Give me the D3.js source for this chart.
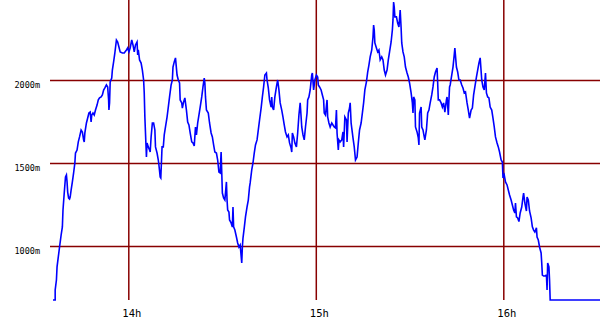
<!DOCTYPE html>
<html>
<head>
<meta charset="utf-8">
<script src="https://cdn.jsdelivr.net/npm/d3@7"></script>
<style>
html,body{margin:0;padding:0;background:#fff;}
svg{display:block;}
</style>
</head>
<body>
<svg id="chart" width="600" height="330"></svg>
<script>
// time in minutes after 13:00
const timeMin = [
35.9,36.6,36.6,37.0,37.2,37.6,38.0,38.5,38.9,39.1,39.5,39.9,40.2,40.4,40.6,40.9,41.2,41.4,41.7,42.1,
42.5,42.9,43.1,43.6,44.0,44.4,44.9,45.3,45.7,45.9,46.1,46.6,47.0,47.4,47.8,48.1,48.3,48.7,49.1,49.5,
50.0,50.4,50.8,51.3,51.7,52.1,52.5,53.0,53.4,53.7,53.8,54.0,54.2,54.7,54.9,55.3,55.7,56.2,56.6,57.0,
57.4,58.1,58.7,59.4,59.8,60.2,60.6,61.1,61.5,61.9,62.3,62.8,63.0,63.2,63.6,64.1,64.5,64.9,65.1,65.3,
65.5,65.8,66.0,66.4,66.8,
67.0,67.3,67.7,68.1,68.5,68.7,69.2,69.6,69.8,70.2,70.4,70.8,71.2,71.5,71.9,72.4,72.8,73.2,73.7,74.1,
74.3,74.7,75.1,75.6,76.0,76.4,76.6,77.1,77.3,77.7,78.1,78.6,79.0,79.4,79.8,80.3,80.7,81.1,81.5,81.8,
82.2,82.6,83.0,83.5,83.9,84.3,84.5,84.7,85.0,85.6,86.0,86.5,86.9,87.3,87.7,88.2,88.6,89.0,89.4,89.7,
89.9,90.1,90.5,90.9,91.4,91.6,91.8,92.2,92.4,92.9,93.3,93.5,93.7,94.1,94.6,95.0,95.4,95.8,96.3,96.5,
96.7,97.1,97.5,98.0,98.4,98.8,
99.0,99.5,99.9,100.3,100.7,101.2,101.6,102.0,102.5,102.9,103.3,103.7,104.2,104.4,104.8,105.2,105.7,105.9,106.1,106.5,
106.9,107.4,107.8,108.2,108.6,109.1,109.5,109.9,110.3,110.8,111.2,111.6,112.1,112.3,112.5,112.9,113.3,113.8,114.2,114.6,
115.0,115.3,115.5,115.9,116.3,116.7,117.2,117.4,117.8,118.2,118.7,118.9,119.3,119.7,120.2,120.6,120.8,121.2,121.7,122.1,
122.5,122.7,123.1,123.6,123.8,124.2,124.6,125.1,125.5,125.9,126.3,126.6,126.8,127.2,127.4,127.8,128.3,128.7,128.9,129.3,
129.8,130.0,130.4,130.8,
131.0,131.3,131.7,131.9,132.3,132.7,133.2,133.6,134.0,134.5,134.9,135.3,135.7,136.2,136.6,137.0,137.4,137.9,138.3,138.5,
138.7,138.9,139.4,139.8,140.2,140.6,141.1,141.5,141.9,142.3,142.8,143.2,143.6,144.1,144.5,144.7,144.9,145.1,145.3,145.8,
146.2,146.6,147.0,147.3,147.5,147.9,148.3,148.7,149.2,149.6,150.0,150.5,150.9,151.1,151.3,151.7,151.9,152.4,152.8,153.0,
153.2,153.7,153.9,154.3,154.7,154.9,155.4,155.8,156.2,156.6,157.1,157.5,157.9,158.3,158.8,159.0,159.2,159.6,160.1,160.5,
160.9,161.3,161.8,162.0,162.4,162.6,162.8,
163.0,163.5,163.9,164.3,164.5,165.0,165.4,165.8,166.2,166.7,167.1,167.5,167.9,168.4,168.8,169.2,169.7,170.1,170.5,170.9,
171.4,171.8,172.2,172.6,173.1,173.5,173.9,174.3,174.6,175.0,175.4,175.8,176.3,176.7,177.1,177.5,178.0,178.4,178.8,179.3,
179.7,179.9,180.3,180.7,181.2,181.6,182.0,182.5,182.9,183.3,183.7,183.9,184.2,184.6,185.0,185.4,185.9,186.3,186.5,186.9,
187.4,187.6,188.0,188.4,188.9,189.3,189.7,190.1,190.6,190.8,191.2,191.6,192.1,192.3,192.5,192.9,193.3,193.8,194.0,194.2,
194.6,194.8,195.0,211.0
];
// altitude in metres
const altitude = [
675,675,735,795,874,934,994,1066,1115,1217,1319,1416,1428,1386,1325,1289,1283,1295,1337,1386,
1440,1500,1560,1578,1627,1657,1699,1687,1639,1627,1681,1741,1771,1801,1807,1747,1789,1801,1789,1819,
1849,1880,1892,1898,1910,1940,1952,1970,1958,1880,1819,1862,1988,2012,2060,2109,2163,2241,2229,2199,
2169,2163,2163,2181,2193,2169,2193,2241,2211,2169,2211,2229,2151,2181,2121,2102,2060,2000,1922,1777,
1681,1536,1621,1597,1578,
1566,1657,1741,1741,1699,1597,1560,1518,1488,1416,1410,1597,1597,1669,1717,1777,1837,1898,1970,2000,
2078,2109,2133,2030,2000,1982,1880,1862,1831,1868,1892,1819,1747,1729,1681,1627,1621,1603,1717,1669,
1741,1789,1837,1898,1958,2012,1982,1898,1819,1801,1741,1681,1657,1609,1566,1560,1518,1446,1440,1566,
1446,1319,1289,1277,1386,1277,1217,1205,1157,1139,1115,1235,1115,1096,1054,1018,994,1006,898,994,
1048,1109,1175,1235,1277,1356,
1380,1458,1500,1560,1609,1639,1699,1759,1831,1898,1958,2030,2042,2000,1952,1880,1837,1898,1837,1819,
1898,1958,2000,1940,1862,1819,1777,1729,1687,1657,1669,1621,1590,1566,1681,1657,1621,1597,1681,1789,
1862,1777,1717,1669,1639,1717,1801,1880,1898,1940,2030,2042,1940,2000,2030,2018,1970,1958,1940,1910,
1880,1801,1789,1880,1777,1741,1717,1741,1729,1717,1711,1819,1681,1578,1639,1627,1639,1687,1597,1777,
1759,1627,1801,1831,
1862,1741,1681,1651,1597,1518,1536,1621,1699,1741,1801,1862,1940,1988,2048,2090,2139,2181,2259,2331,
2301,2223,2193,2169,2181,2121,2139,2121,2060,2030,2060,2121,2169,2229,2301,2362,2470,2440,2380,2380,
2343,2319,2422,2313,2223,2169,2139,2078,2042,2018,1982,1922,1862,1801,1898,1880,1717,1687,1651,1609,
1801,1837,1717,1699,1657,1639,1699,1801,1819,1862,1910,1958,2018,2048,2072,1982,1880,1880,1862,1837,
1862,1807,1880,1898,1789,1880,1958,
1970,2030,2078,2151,2193,2078,2048,2000,2000,1970,1952,1922,1928,1862,1819,1771,1819,1831,1910,1958,
2018,2060,2102,2133,2000,1958,1940,2042,1922,1898,1892,1837,1819,1771,1717,1657,1621,1597,1566,1518,
1506,1410,1428,1386,1368,1337,1307,1277,1247,1217,1199,1259,1175,1169,1147,1199,1235,1295,1319,1259,
1211,1295,1277,1211,1169,1115,1096,1084,1109,1054,1036,994,958,898,825,819,819,825,735,898,
874,795,675,675
];
const yTicks = [1000, 1500, 2000];
const yTickLabels = ["1000m", "1500m", "2000m"];
const xTicks = [60, 120, 180];
const xTickLabels = ["14h", "15h", "16h"];

const svg = d3.select("#chart");
const plotLeft = 50, plotRight = 600, plotTop = 0, plotBottom = 300;

const x = d3.scaleLinear().domain([60, 180]).range([128.3, 503.3]);
const y = d3.scaleLinear().domain([1000, 2000]).range([246, 80]);

svg.append("rect").attr("width", 600).attr("height", 330).attr("fill", "#fff");

const gridColor = "#880000";

// horizontal grid + labels
const yAxis = d3.axisLeft(y).tickValues(yTicks)
  .tickFormat((d, i) => yTickLabels[i])
  .tickSize(-(plotRight - plotLeft)).tickPadding(10);
const gy = svg.append("g").attr("transform", `translate(${plotLeft},0)`).call(yAxis);
gy.select(".domain").remove();
gy.selectAll(".tick line").attr("stroke", gridColor).attr("stroke-width", 1.5);
gy.selectAll(".tick text")
  .attr("font-family", "DejaVu Sans Mono, monospace")
  .attr("font-size", "8.5px").attr("fill", "#000")
  .attr("dy", "7").attr("x", -10);

// vertical grid + labels
const xAxis = d3.axisBottom(x).tickValues(xTicks)
  .tickFormat((d, i) => xTickLabels[i])
  .tickSize(-(plotBottom - plotTop)).tickPadding(0);
const gx = svg.append("g").attr("transform", `translate(0,${plotBottom})`).call(xAxis);
gx.select(".domain").remove();
gx.selectAll(".tick line").attr("stroke", gridColor).attr("stroke-width", 1.5);
gx.selectAll(".tick text")
  .attr("font-family", "DejaVu Sans Mono, monospace")
  .attr("font-size", "10.5px").attr("fill", "#000")
  .attr("dy", null).attr("y", 17).attr("x", 3);

// altitude line
const data = timeMin.map((t, i) => ({t, a: altitude[i]}));
const line = d3.line().x(d => x(d.t)).y(d => y(d.a));
svg.append("path").datum(data)
  .attr("d", line)
  .attr("fill", "none")
  .attr("stroke", "#0000ff")
  .attr("stroke-width", 1.6)
  .attr("stroke-linejoin", "miter");
</script>
</body>
</html>
